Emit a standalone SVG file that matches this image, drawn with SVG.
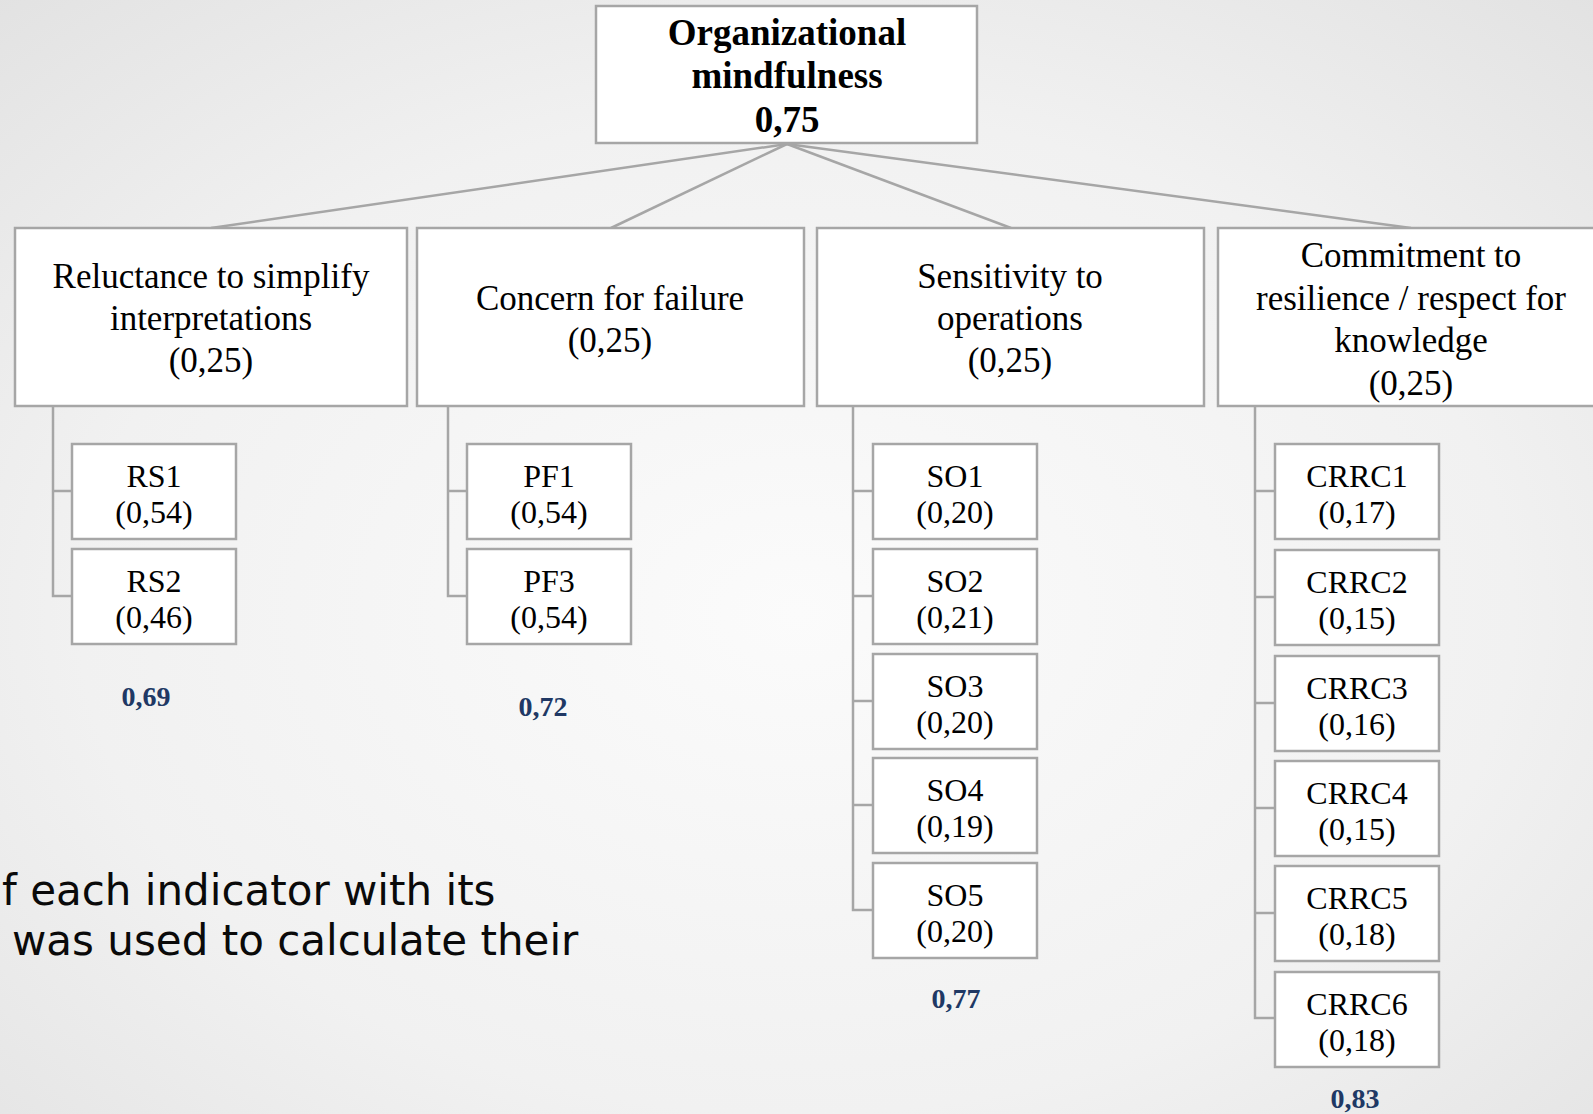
<svg xmlns="http://www.w3.org/2000/svg" width="1593" height="1114" viewBox="0 0 1593 1114">
<defs>
<radialGradient id="bg" cx="50%" cy="55%" r="75%">
<stop offset="0" stop-color="#fbfbfb"/>
<stop offset="0.6" stop-color="#f1f1f1"/>
<stop offset="1" stop-color="#e2e2e2"/>
</radialGradient>
<style>
.box{fill:#ffffff;stroke:#a6a6a6;stroke-width:2.5}
.con{fill:none;stroke:#a6a6a6;stroke-width:2.5}
.t1{font-family:"Liberation Serif","Times New Roman",serif;font-size:35px;fill:#000;text-anchor:middle}
.t0{font-family:"Liberation Serif","Times New Roman",serif;font-size:37px;font-weight:bold;fill:#000;text-anchor:middle}
.t2{font-family:"Liberation Serif","Times New Roman",serif;font-size:32px;fill:#000;text-anchor:middle}
.sc{font-family:"Liberation Serif","Times New Roman",serif;font-size:28px;font-weight:bold;fill:#203864;text-anchor:middle}
.body{font-family:"DejaVu Sans",Verdana,sans-serif;font-size:42px;fill:#0a0a0a}
</style>
</defs>
<rect x="0" y="0" width="1593" height="1114" fill="url(#bg)"/>

<text class="body" x="2" y="905">f each indicator with its</text>
<text class="body" x="12" y="955">was used to calculate their</text>

<g id="connectors">
<line class="con" x1="787" y1="144" x2="211" y2="228"/>
<line class="con" x1="787" y1="144" x2="611" y2="228"/>
<line class="con" x1="787" y1="144" x2="1011" y2="228"/>
<line class="con" x1="787" y1="144" x2="1411" y2="228"/>
<polyline class="con" points="53,406 53,596 72,596"/>
<line class="con" x1="53" y1="491" x2="72" y2="491"/>
<polyline class="con" points="448,406 448,596 467,596"/>
<line class="con" x1="448" y1="491" x2="467" y2="491"/>
<polyline class="con" points="853,406 853,910 873,910"/>
<line class="con" x1="853" y1="491" x2="873" y2="491"/>
<line class="con" x1="853" y1="596" x2="873" y2="596"/>
<line class="con" x1="853" y1="701" x2="873" y2="701"/>
<line class="con" x1="853" y1="805" x2="873" y2="805"/>
<polyline class="con" points="1255,406 1255,1018 1275,1018"/>
<line class="con" x1="1255" y1="491" x2="1275" y2="491"/>
<line class="con" x1="1255" y1="597" x2="1275" y2="597"/>
<line class="con" x1="1255" y1="703" x2="1275" y2="703"/>
<line class="con" x1="1255" y1="808" x2="1275" y2="808"/>
<line class="con" x1="1255" y1="913" x2="1275" y2="913"/>
</g>

<g id="root">
<rect class="box" x="596" y="6" width="381" height="137"/>
<text class="t0" x="787" y="45">Organizational</text>
<text class="t0" x="787" y="88">mindfulness</text>
<text class="t0" x="787" y="132">0,75</text>
</g>

<g id="rs">
<rect class="box" x="15" y="228" width="392" height="178"/>
<text class="t1" x="211" y="288">Reluctance to simplify</text>
<text class="t1" x="211" y="330">interpretations</text>
<text class="t1" x="211" y="372">(0,25)</text>
</g>
<g id="pf">
<rect class="box" x="417" y="228" width="387" height="178"/>
<text class="t1" x="610" y="310">Concern for failure</text>
<text class="t1" x="610" y="352">(0,25)</text>
</g>
<g id="so">
<rect class="box" x="817" y="228" width="387" height="178"/>
<text class="t1" x="1010" y="288">Sensitivity to</text>
<text class="t1" x="1010" y="330">operations</text>
<text class="t1" x="1010" y="372">(0,25)</text>
</g>
<g id="crrc">
<rect class="box" x="1218" y="228" width="387" height="178"/>
<text class="t1" x="1411" y="267">Commitment to</text>
<text class="t1" x="1411" y="310">resilience / respect for</text>
<text class="t1" x="1411" y="352">knowledge</text>
<text class="t1" x="1411" y="395">(0,25)</text>
</g>

<g id="RS1"><rect class="box" x="72" y="444" width="164" height="95"/><text class="t2" x="154" y="487">RS1</text><text class="t2" x="154" y="523">(0,54)</text></g>
<g id="RS2"><rect class="box" x="72" y="549" width="164" height="95"/><text class="t2" x="154" y="592">RS2</text><text class="t2" x="154" y="628">(0,46)</text></g>
<g id="PF1"><rect class="box" x="467" y="444" width="164" height="95"/><text class="t2" x="549" y="487">PF1</text><text class="t2" x="549" y="523">(0,54)</text></g>
<g id="PF3"><rect class="box" x="467" y="549" width="164" height="95"/><text class="t2" x="549" y="592">PF3</text><text class="t2" x="549" y="628">(0,54)</text></g>

<g id="SO1"><rect class="box" x="873" y="444" width="164" height="95"/><text class="t2" x="955" y="487">SO1</text><text class="t2" x="955" y="523">(0,20)</text></g>
<g id="SO2"><rect class="box" x="873" y="549" width="164" height="95"/><text class="t2" x="955" y="592">SO2</text><text class="t2" x="955" y="628">(0,21)</text></g>
<g id="SO3"><rect class="box" x="873" y="654" width="164" height="95"/><text class="t2" x="955" y="697">SO3</text><text class="t2" x="955" y="733">(0,20)</text></g>
<g id="SO4"><rect class="box" x="873" y="758" width="164" height="95"/><text class="t2" x="955" y="801">SO4</text><text class="t2" x="955" y="837">(0,19)</text></g>
<g id="SO5"><rect class="box" x="873" y="863" width="164" height="95"/><text class="t2" x="955" y="906">SO5</text><text class="t2" x="955" y="942">(0,20)</text></g>

<g id="CRRC1"><rect class="box" x="1275" y="444" width="164" height="95"/><text class="t2" x="1357" y="487">CRRC1</text><text class="t2" x="1357" y="523">(0,17)</text></g>
<g id="CRRC2"><rect class="box" x="1275" y="550" width="164" height="95"/><text class="t2" x="1357" y="593">CRRC2</text><text class="t2" x="1357" y="629">(0,15)</text></g>
<g id="CRRC3"><rect class="box" x="1275" y="656" width="164" height="95"/><text class="t2" x="1357" y="699">CRRC3</text><text class="t2" x="1357" y="735">(0,16)</text></g>
<g id="CRRC4"><rect class="box" x="1275" y="761" width="164" height="95"/><text class="t2" x="1357" y="804">CRRC4</text><text class="t2" x="1357" y="840">(0,15)</text></g>
<g id="CRRC5"><rect class="box" x="1275" y="866" width="164" height="95"/><text class="t2" x="1357" y="909">CRRC5</text><text class="t2" x="1357" y="945">(0,18)</text></g>
<g id="CRRC6"><rect class="box" x="1275" y="972" width="164" height="95"/><text class="t2" x="1357" y="1015">CRRC6</text><text class="t2" x="1357" y="1051">(0,18)</text></g>

<g id="scores">
<text class="sc" x="146" y="706">0,69</text>
<text class="sc" x="543" y="716">0,72</text>
<text class="sc" x="956" y="1008">0,77</text>
<text class="sc" x="1355" y="1108">0,83</text>
</g>
</svg>
